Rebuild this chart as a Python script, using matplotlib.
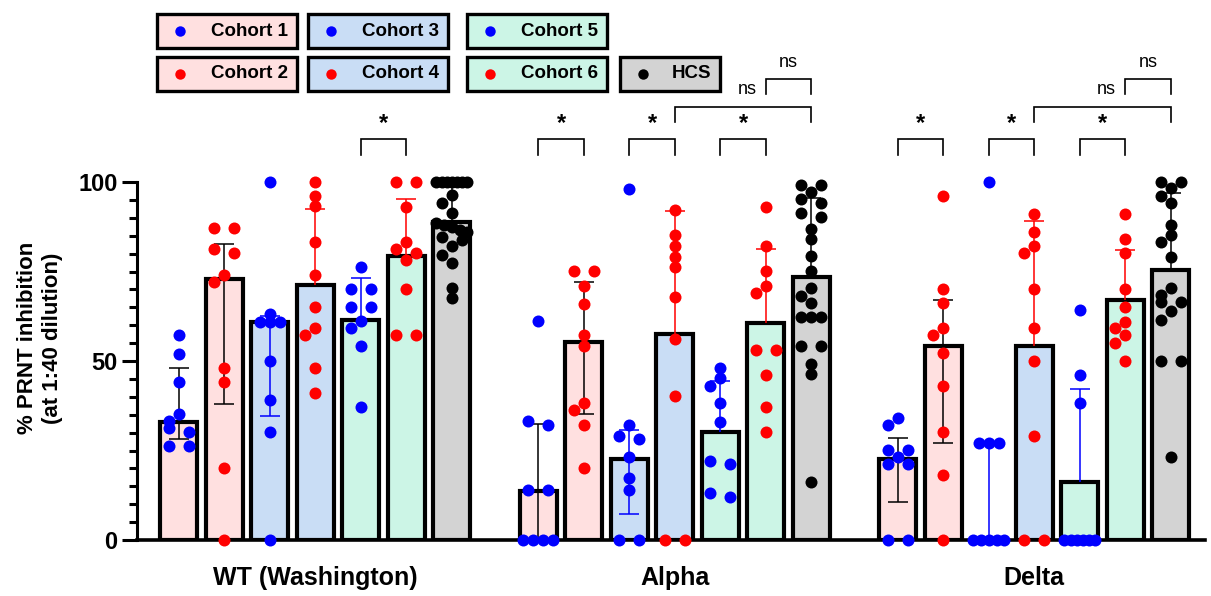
import matplotlib.pyplot as plt
import numpy as np
from matplotlib.lines import Line2D
from matplotlib.patches import Rectangle

plt.rcParams['font.family'] = ['Liberation Sans', 'DejaVu Sans']

VARIANTS = ['WT (Washington)', 'Alpha', 'Delta']
SERIES = ['Cohort 1', 'Cohort 2', 'Cohort 3', 'Cohort 4', 'Cohort 5', 'Cohort 6', 'HCS']

# bar heights and error bar ends (nan = no lower whisker drawn)
wt_height = [32.9, 72.8, 60.8, 71.2, 61.5, 79.4, 88.9]
wt_low = [28.1, 38.1, 34.6, np.nan, np.nan, np.nan, np.nan]
wt_high = [48.0, 82.7, 62.5, 92.5, 73.3, 95.3, 98.7]

alpha_height = [13.8, 55.2, 22.7, 57.5, 30.3, 60.5, 73.6]
alpha_low = [0.0, 35.1, 7.3, np.nan, np.nan, np.nan, np.nan]
alpha_high = [32.5, 72.2, 30.7, 92.0, 44.5, 81.3, 95.4]

delta_height = [22.7, 54.2, 0.0, 54.2, 16.1, 66.9, 75.4]
delta_low = [10.7, 27.2, np.nan, np.nan, np.nan, np.nan, np.nan]
delta_high = [28.6, 67.1, 27.2, 89.2, 42.1, 81.0, 97.0]

# individual samples
wt_points = [
    [57.2, 52.0, 44.0, 35.1, 33.3, 31.2, 30.2, 26.2, 26.2],
    [87.2, 87.2, 81.2, 80.1, 74.1, 72.2, 48.1, 44.0, 20.2, 0],
    [100, 63.1, 61.0, 61.0, 61.0, 50.1, 39.1, 30.1, 0],
    [100, 96.1, 93.4, 83.2, 74.1, 65.2, 59.1, 57.3, 48.0, 41.2],
    [76.2, 70.1, 70.1, 65.2, 65.2, 61.2, 59.1, 54.2, 37.1],
    [100, 100, 93.1, 83.2, 81.2, 80.1, 78.2, 70.1, 57.3, 57.3],
    [100, 100, 100, 100, 100, 100, 100, 96.4, 94.0, 91.4, 88.5, 88.0,
     87.5, 86.6, 86.0, 84.5, 83.8, 82.0, 79.6, 77.3, 70.3, 67.5],
]
alpha_points = [
    [61.2, 33.2, 32.2, 14.1, 14.1, 0, 0, 0, 0],
    [75.2, 75.2, 71.0, 66.0, 57.2, 54.2, 38.2, 36.2, 32.1, 20.2],
    [98.0, 32.2, 29.1, 28.3, 23.3, 17.2, 14.1, 0, 0],
    [92.2, 85.1, 82.1, 79.1, 76.2, 68.0, 56.1, 40.2, 0, 0],
    [48.1, 45.2, 43.1, 38.2, 33.1, 22.1, 21.1, 13.0, 12.1],
    [93.1, 82.1, 75.1, 71.0, 69.1, 53.1, 53.1, 46.1, 37.1, 30.1],
    [99.2, 99.2, 97.1, 95.2, 94.1, 91.4, 90.3, 86.8, 84.0, 79.4, 75.1,
     70.3, 68.2, 66.1, 62.4, 62.4, 62.4, 54.2, 54.2, 49.3, 46.3, 16.1],
]
delta_points = [
    [34.2, 32.1, 25.1, 25.1, 23.1, 21.1, 21.1, 0, 0],
    [96.1, 70.1, 66.1, 59.1, 57.2, 52.1, 43.0, 30.1, 18.2, 0],
    [100, 27.2, 27.2, 27.2, 0, 0, 0, 0, 0],
    [91.2, 86.1, 82.1, 80.1, 70.1, 59.1, 50.1, 29.1, 0, 0],
    [64.2, 46.1, 38.2, 0, 0, 0, 0, 0, 0],
    [91.2, 84.1, 80.1, 70.1, 65.2, 61.0, 59.1, 57.2, 55.1, 50.1],
    [100, 100, 98.2, 96.1, 94.0, 88.1, 85.2, 83.3, 79.0, 70.5, 68.5,
     66.5, 66.5, 64.0, 61.5, 50.1, 50.1, 23.3],
]

# (variant, bar a, bar b, level, label)
brackets = [
    (0, 4, 5, 0, '*'),
    (1, 0, 1, 0, '*'), (1, 2, 3, 0, '*'), (1, 4, 5, 0, '*'),
    (1, 3, 6, 1, 'ns'), (1, 5, 6, 2, 'ns'),
    (2, 0, 1, 0, '*'), (2, 2, 3, 0, '*'), (2, 4, 5, 0, '*'),
    (2, 3, 6, 1, 'ns'), (2, 5, 6, 2, 'ns'),
]

FILLS = ['#FFE0E0', '#FFE0E0', '#C9DDF5', '#C9DDF5', '#CCF5E6', '#CCF5E6', '#D3D3D3']
DOTS = ['#0000FF', '#FF0000', '#0000FF', '#FF0000', '#0000FF', '#FF0000', 'black']
ERRS = ['black', 'black', '#0000FF', '#FF0000', '#0000FF', '#FF0000', 'black']

W, H = 1211, 596
GROUP_STEP = 7.9
DOT_PX = 12.0


def swarm(values, px_x, px_y, d=10.0, span=31.0):
    vals = sorted(values, reverse=True)
    rows = []
    for v in vals:
        if rows and rows[-1][-1] - v < 1.2:
            rows[-1].append(v)
        else:
            rows.append([v])
    placed = []
    xs, ys = [], []
    for row in rows:
        n = len(row)
        if n == 1:
            y = row[0] * px_y
            for k in [0, -1, 1, -2, 2, -3, 3]:
                x = k * d
                if all(np.hypot(x - a, y - b) >= 0.9 * d for a, b in placed):
                    break
            offs = [x]
        elif n == 2:
            offs = [-d, d]
        else:
            s = min(d, span / (n - 1))
            offs = [(i - (n - 1) / 2) * s for i in range(n)]
        for v, o in zip(row, offs):
            placed.append((o, v * px_y))
            xs.append(o / px_x)
            ys.append(v)
    return np.array(xs), np.array(ys)


def fig_xy(x, y):
    return x / W, 1 - y / H


def draw_legend(fig):
    cols = [157, 308, 467]
    rows = [14, 57]
    for i, name in enumerate(SERIES):
        if i < 6:
            x0, y0, w = cols[i // 2], rows[i % 2], 140
        else:
            x0, y0, w = 620, 57, 100
        fx, fy = fig_xy(x0, y0 + 34)
        fig.add_artist(Rectangle((fx, fy), w / W, 34 / H, transform=fig.transFigure,
                                 facecolor=FILLS[i], edgecolor='black', lw=2.4))
        cx, cy = fig_xy(x0 + 23, y0 + 17)
        fig.add_artist(Line2D([cx], [cy], marker='o', ms=7.5, color=DOTS[i],
                              mec='none', transform=fig.transFigure))
        tx, _ = fig_xy(x0 + w - 9, 0)
        fig.text(tx, cy, name, ha='right', va='center', fontsize=13.5, fontweight='bold')


def draw_bracket(ax, x1, x2, top, bottom):
    ax.plot([x1, x1, x2, x2], [bottom, top, top, bottom], color='black',
            lw=1.2, clip_on=False, solid_joinstyle='miter')


def main():
    fig = plt.figure(figsize=(W / 100, H / 100), dpi=100)
    ax = fig.add_axes([137 / W, 56 / H, 1068 / W, 358 / H])
    xmin, xmax = -0.92, 22.55
    ax.set_xlim(xmin, xmax)
    ax.set_ylim(0, 100)
    px_x = 1068 / (xmax - xmin)
    px_y = 358 / 100

    heights = [wt_height, alpha_height, delta_height]
    lows = [wt_low, alpha_low, delta_low]
    highs = [wt_high, alpha_high, delta_high]
    points = [wt_points, alpha_points, delta_points]

    cap = 10 / px_x
    dot_area = (DOT_PX * 0.72) ** 2
    for g in range(3):
        base = g * GROUP_STEP
        for i in range(7):
            x = base + i
            h = heights[g][i]
            ax.bar(x, h, width=0.81, color=FILLS[i], edgecolor='black',
                   linewidth=3.0, zorder=2)
            lo = lows[g][i]
            hi = highs[g][i]
            start = h if np.isnan(lo) else lo
            ax.vlines(x, start, hi, color=ERRS[i], lw=1.1, zorder=3)
            ax.hlines(hi, x - cap, x + cap, color=ERRS[i], lw=1.1, zorder=3)
            if not np.isnan(lo):
                ax.hlines(lo, x - cap, x + cap, color=ERRS[i], lw=1.1, zorder=3)
            dx, ys = swarm(points[g][i], px_x, px_y)
            ax.scatter(x + dx, ys, s=dot_area, color=DOTS[i], linewidths=0,
                       zorder=4, clip_on=False)

    levels = [(112.1, 107.5), (121.0, 116.8), (128.8, 124.6)]
    for g, a, b, lev, label in brackets:
        x1 = g * GROUP_STEP + a
        x2 = g * GROUP_STEP + b
        top, bottom = levels[lev]
        draw_bracket(ax, x1, x2, top, bottom)
        if label == '*':
            ax.text((x1 + x2) / 2, top + 1.0, '*', ha='center', va='bottom',
                    fontsize=17, fontweight='bold', clip_on=False)
        elif lev == 1:
            ax.text(g * GROUP_STEP + 5 - 0.2, 125.7, 'ns', ha='right', va='center',
                    fontsize=13, clip_on=False)
        else:
            ax.text((x1 + x2) / 2, 133.3, 'ns', ha='center', va='center',
                    fontsize=13, clip_on=False)

    for side in ['top', 'right']:
        ax.spines[side].set_visible(False)
    ax.spines['bottom'].set_linewidth(2.6)
    ax.spines['left'].set_linewidth(2.2)

    ax.set_yticks([0, 50, 100])
    ax.set_yticks(np.arange(0, 101, 5), minor=True)
    ax.tick_params(axis='y', which='major', length=11, width=2.2, labelsize=17, pad=3)
    ax.tick_params(axis='y', which='minor', length=6, width=2.2)
    for lab in ax.get_yticklabels():
        lab.set_fontweight('bold')

    ax.set_xticks([g * GROUP_STEP + 3 for g in range(3)])
    ax.set_xticklabels(VARIANTS, fontsize=18, fontweight='bold')
    ax.tick_params(axis='x', which='both', length=0, pad=19)

    lx, ly = fig_xy(40, 338)
    fig.text(lx, ly, '% PRNT inhibition\n(at 1:40 dilution)', rotation=90,
             ha='center', va='center', fontsize=16, fontweight='bold',
             multialignment='center', linespacing=1.25)

    draw_legend(fig)
    fig.savefig('out.png', dpi=100)


if __name__ == '__main__':
    main()
